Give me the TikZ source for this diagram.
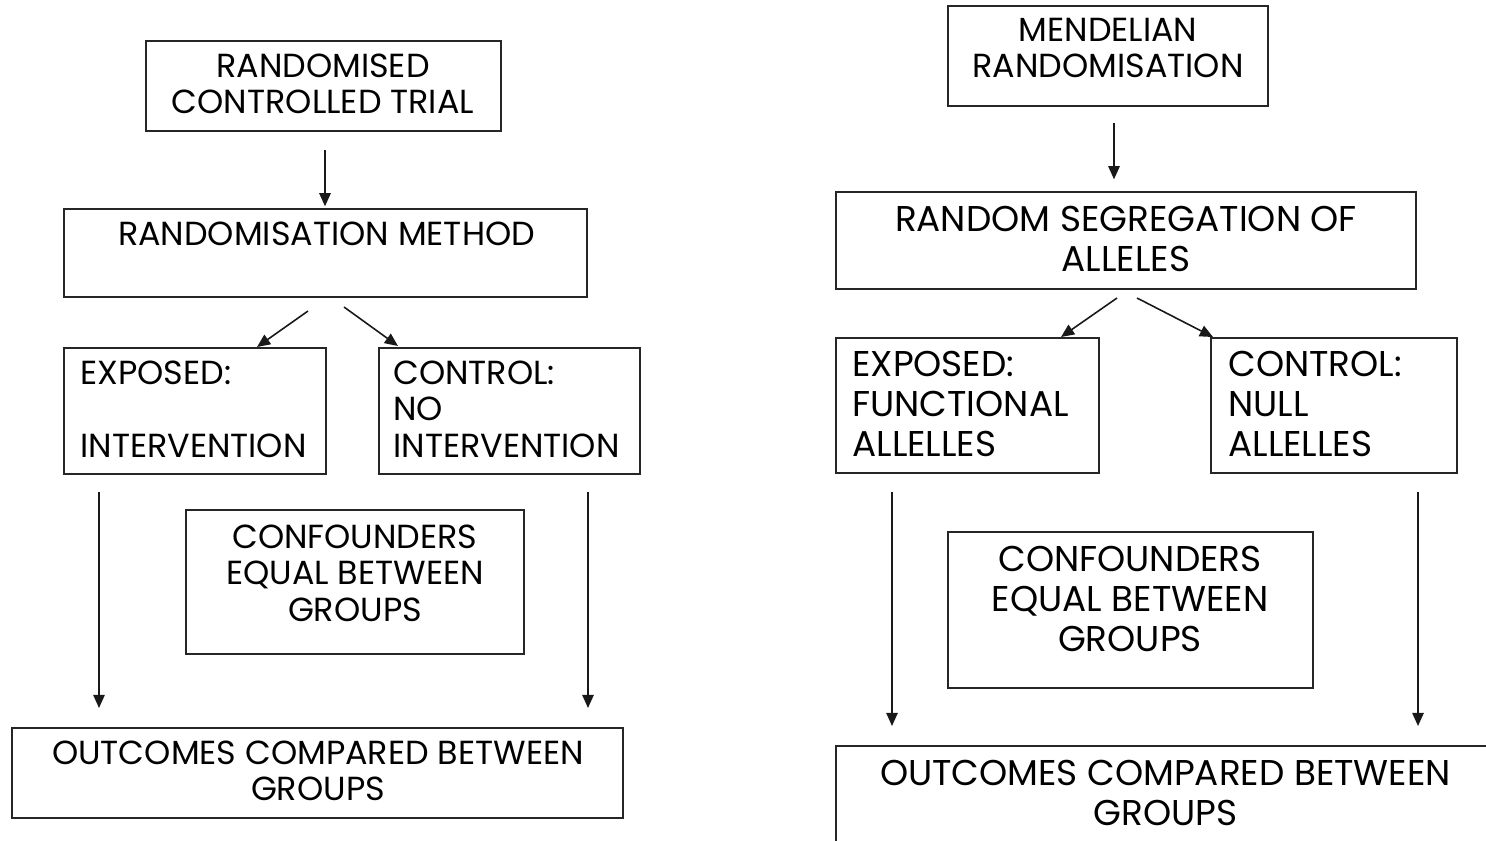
\documentclass[tikz,border=0pt]{standalone}
\usepackage{fontspec}
\setmainfont{Poppins}
\usetikzlibrary{arrows.meta}
\begin{document}
\begin{tikzpicture}[x=0.02cm,y=-0.02cm,
  box/.style={draw=black!85,line width=0.8pt,inner sep=0pt,fill=none},
  small/.style={font=\fontsize{19}{20.7}\selectfont,inner sep=0pt,text depth=0pt},
  large/.style={font=\fontsize{20.4}{22.7}\selectfont,inner sep=0pt,text depth=0pt},
  flow/.style={draw=black!90,line width=0.9pt,-{Triangle[length=7.5pt,width=6.5pt]}}]
\useasboundingbox[fill=white] (0,0) rectangle (1486,840);

% ---- randomised controlled trial (left) ----
\node[box,minimum width=7.10cm,minimum height=1.80cm] (rct) at (323.5,86) {};
\node[box,minimum width=10.46cm,minimum height=1.76cm] (rm) at (325.5,253) {};
\node[box,minimum width=5.24cm,minimum height=2.52cm] (exL) at (195,411) {};
\node[box,minimum width=5.22cm,minimum height=2.52cm] (ctL) at (509.5,411) {};
\node[box,minimum width=6.76cm,minimum height=2.88cm] (cfL) at (355,582) {};
\node[box,minimum width=12.22cm,minimum height=1.80cm] (ocL) at (317.5,773) {};

\node[small,align=center] (rctT) at (323,84) {RANDOMISED\\CONTROLLED TRIAL};
\node[small] (rmT) at (326.5,234) {RANDOMISATION METHOD};
\node[small,align=left,anchor=west] (exLT) at (80,409) {EXPOSED:\\\mbox{}\\INTERVENTION};
\node[small,align=left,anchor=west] (ctLT) at (393,409) {CONTROL:\\NO\\INTERVENTION};
\node[small,align=center] (cfLT) at (355,573) {CONFOUNDERS\\EQUAL BETWEEN\\GROUPS};
\node[small,align=center] (ocLT) at (318,771) {OUTCOMES COMPARED BETWEEN\\GROUPS};

\coordinate (l0) at (325,150);
\coordinate (l1) at (308,311);
\coordinate (l2) at (257,347);
\coordinate (l3) at (344,307);
\coordinate (l4) at (398,346);
\coordinate (l5) at (99,492);
\coordinate (l6) at (99,708);
\coordinate (l7) at (588,492);
\coordinate (l8) at (588,708);

\draw[flow,shorten >=0.04cm] (l0) -- (l0 |- rm.north);
\draw[flow] (l1) -- (l2);
\draw[flow] (l3) -- (l4);
\draw[flow] (l5) -- (l6);
\draw[flow] (l7) -- (l8);

% ---- Mendelian randomisation (right) ----
\node[box,minimum width=6.40cm,minimum height=2.00cm] (mr) at (1108,56) {};
\node[box,minimum width=11.60cm,minimum height=1.94cm] (rsa) at (1126,240.5) {};
\node[box,minimum width=5.26cm,minimum height=2.70cm] (exR) at (967.5,405.5) {};
\node[box,minimum width=4.92cm,minimum height=2.70cm] (ctR) at (1334,405.5) {};
\node[box,minimum width=7.30cm,minimum height=3.12cm] (cfR) at (1130.5,610) {};
\node[box,minimum width=13.18cm,minimum height=1.98cm] (ocR) at (1165.5,795.5) {};

\node[small,align=center] (mrT) at (1108,48) {MENDELIAN\\RANDOMISATION};
\node[large,align=center] (rsaT) at (1126,238.5) {RANDOM SEGREGATION OF\\ALLELES};
\node[large,align=left,anchor=west] (exRT) at (852,404) {EXPOSED:\\FUNCTIONAL\\ALLELLES};
\node[large,align=left,anchor=west] (ctRT) at (1228,404) {CONTROL:\\NULL\\ALLELLES};
\node[large,align=center] (cfRT) at (1130,598.5) {CONFOUNDERS\\EQUAL BETWEEN\\GROUPS};
\node[large,align=center] (ocRT) at (1165.5,793) {OUTCOMES COMPARED BETWEEN\\GROUPS};

\coordinate (r0) at (1114,123);
\coordinate (r1) at (1117,298);
\coordinate (r2) at (1061,337);
\coordinate (r3) at (1137,298);
\coordinate (r4) at (1213,337);
\coordinate (r5) at (892,492);
\coordinate (r6) at (892,726);
\coordinate (r7) at (1418,492);
\coordinate (r8) at (1418,726);

\draw[flow,shorten >=0.24cm] (r0) -- (r0 |- rsa.north);
\draw[flow] (r1) -- (r2);
\draw[flow] (r3) -- (r4);
\draw[flow] (r5) -- (r6);
\draw[flow] (r7) -- (r8);
\end{tikzpicture}
\end{document}
